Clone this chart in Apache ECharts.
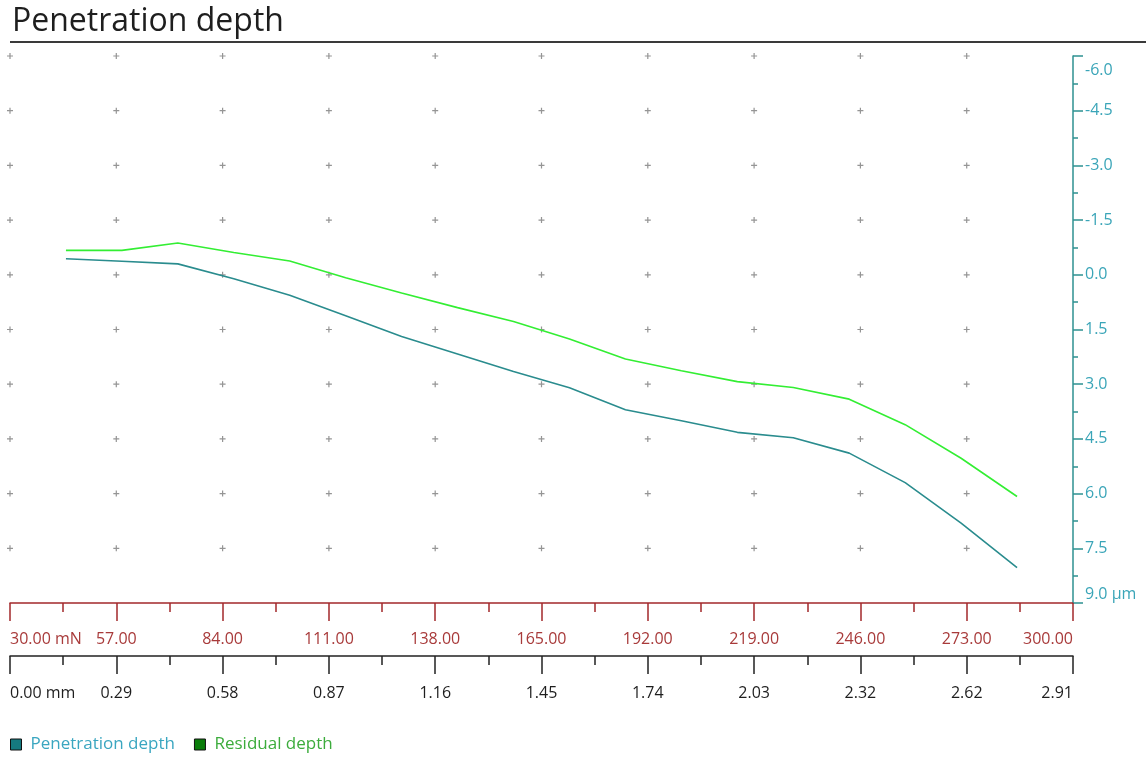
<!DOCTYPE html>
<html>
<head>
<meta charset="utf-8">
<script src="https://cdn.jsdelivr.net/npm/echarts@6/dist/echarts.min.js"></script>
<style>
html,body{margin:0;padding:0;background:#fff;}
#chart{width:1146px;height:757px;}
</style>
</head>
<body>
<div id="chart"></div>
<script>
// Applied load (mN) at each measured point
const loadPoints = [44.21, 58.42, 72.63, 86.84, 101.05, 115.26, 129.47, 143.68, 157.89, 172.11, 186.32, 200.53, 214.74, 228.95, 243.16, 257.37, 271.58, 285.79];
// Penetration depth (µm)
const penetrationDepth = [-0.44, -0.37, -0.30, 0.11, 0.56, 1.12, 1.69, 2.17, 2.65, 3.10, 3.70, 4.00, 4.32, 4.47, 4.89, 5.70, 6.81, 8.03];
// Residual depth (µm)
const residualDepth = [-0.67, -0.67, -0.87, -0.61, -0.38, 0.08, 0.50, 0.90, 1.28, 1.76, 2.31, 2.63, 2.93, 3.09, 3.41, 4.11, 5.03, 6.08];

// Axis tick values
const loadTicks = [30, 57, 84, 111, 138, 165, 192, 219, 246, 273, 300];
const distTicks = [0.00, 0.29, 0.58, 0.87, 1.16, 1.45, 1.74, 2.03, 2.32, 2.62, 2.91];
const depthTicks = [-6.0, -4.5, -3.0, -1.5, 0.0, 1.5, 3.0, 4.5, 6.0, 7.5, 9.0];

const seriesNames = ['Penetration depth', 'Residual depth'];

// grid "+" markers at major tick intersections (excluding the axis lines)
const gridMarks = [];
loadTicks.slice(0, -1).forEach(function (x) {
  depthTicks.slice(0, -1).forEach(function (y) { gridMarks.push([x, y]); });
});

const chart = echarts.init(document.getElementById('chart'));
const FONT = 'Open Sans';
const RED = '#a3282b';
const TEAL_AXIS = '#2e9191';
const Y_LABEL_COLOR = '#3aa5b8';

chart.setOption({
  animation: false,
  backgroundColor: '#fff',
  title: {
    text: 'Penetration depth',
    left: 7, top: 1,
    textStyle: { fontSize: 32, fontWeight: 'normal', color: '#1e1e1e', fontFamily: FONT }
  },
  graphic: [{
    type: 'line',
    shape: { x1: 10, y1: 42, x2: 1146, y2: 42 },
    style: { stroke: '#3a3a3a', lineWidth: 2 },
    silent: true
  }],
  legend: {
    left: 5, top: 731,
    icon: 'rect',
    itemWidth: 11, itemHeight: 11,
    itemGap: 19,
    textStyle: { fontSize: 17, fontFamily: FONT, padding: [0, 0, 0, 4] },
    data: [
      { name: seriesNames[0], itemStyle: { color: '#157a80', borderColor: '#111', borderWidth: 1 }, textStyle: { color: '#3aa6c0' } },
      { name: seriesNames[1], itemStyle: { color: '#0a7d0a', borderColor: '#111', borderWidth: 1 }, textStyle: { color: '#3cac3c' } }
    ]
  },
  grid: { left: 10, right: 73, top: 56, bottom: 154, containLabel: false },
  xAxis: [{
    type: 'value', min: 30, max: 300, interval: 27, position: 'bottom',
    axisLine: { show: true, onZero: false, lineStyle: { color: RED, width: 1.5 } },
    axisTick: { show: true, length: 18, lineStyle: { color: RED, width: 1.5 } },
    minorTick: { show: true, splitNumber: 2, length: 9, lineStyle: { color: RED, width: 1.5 } },
    splitLine: { show: false },
    axisLabel: {
      color: '#a83a3a', fontSize: 16, fontFamily: FONT, margin: 28,
      alignMinLabel: 'left', alignMaxLabel: 'right',
      formatter: function (v) { return v === 30 ? '30.00 mN' : v.toFixed(2); }
    }
  }, {
    type: 'value', min: 0, max: 2.91, interval: 0.291, position: 'bottom', offset: 53,
    axisLine: { show: true, onZero: false, lineStyle: { color: '#222', width: 1.5 } },
    axisTick: { show: true, length: 18, lineStyle: { color: '#222', width: 1.5 } },
    minorTick: { show: true, splitNumber: 2, length: 9, lineStyle: { color: '#222', width: 1.5 } },
    splitLine: { show: false },
    axisLabel: {
      color: '#1e1e1e', fontSize: 16, fontFamily: FONT, margin: 29,
      alignMinLabel: 'left', alignMaxLabel: 'right',
      formatter: function (v) {
        let idx = 0, best = 1e9;
        distTicks.forEach(function (t, i) { const d = Math.abs(t - v); if (d < best) { best = d; idx = i; } });
        return idx === 0 ? '0.00 mm' : distTicks[idx].toFixed(2);
      }
    }
  }],
  yAxis: {
    type: 'value', position: 'right', inverse: true, min: -6, max: 9, interval: 1.5,
    axisLine: { show: true, onZero: false, lineStyle: { color: TEAL_AXIS, width: 1.5 } },
    axisTick: { show: true, length: 10, lineStyle: { color: TEAL_AXIS, width: 1.5 } },
    minorTick: { show: true, splitNumber: 2, length: 5, lineStyle: { color: TEAL_AXIS, width: 1.5 } },
    splitLine: { show: false },
    axisLabel: {
      color: Y_LABEL_COLOR, fontSize: 16, fontFamily: FONT, margin: 12,
      formatter: function (v) {
        if (v === depthTicks[0]) return '{first|' + v.toFixed(1) + '}';
        if (v === depthTicks[depthTicks.length - 1]) return '{last|' + v.toFixed(1) + ' µm}';
        return v.toFixed(1);
      },
      rich: {
        first: { color: Y_LABEL_COLOR, fontSize: 16, fontFamily: FONT, padding: [29, 0, 0, 0] },
        last: { color: Y_LABEL_COLOR, fontSize: 16, fontFamily: FONT, padding: [0, 0, 18, 0] }
      }
    }
  },
  series: [{
    name: 'grid-marks', type: 'scatter', xAxisIndex: 0, silent: true,
    symbol: 'path://M2,0 L3,0 L3,2 L5,2 L5,3 L3,3 L3,5 L2,5 L2,3 L0,3 L0,2 L2,2 Z',
    symbolSize: 6,
    itemStyle: { color: '#7a7a7a' },
    data: gridMarks, z: 1
  }, {
    name: seriesNames[0], type: 'line', xAxisIndex: 0,
    data: loadPoints.map(function (x, i) { return [x, penetrationDepth[i]]; }),
    showSymbol: false, symbol: 'none',
    lineStyle: { color: '#2a8c8e', width: 1.6 },
    itemStyle: { color: '#157a80' }, z: 3
  }, {
    name: seriesNames[1], type: 'line', xAxisIndex: 0,
    data: loadPoints.map(function (x, i) { return [x, residualDepth[i]]; }),
    showSymbol: false, symbol: 'none',
    lineStyle: { color: '#33ee33', width: 1.6 },
    itemStyle: { color: '#0a7d0a' }, z: 3
  }]
});
</script>
</body>
</html>
